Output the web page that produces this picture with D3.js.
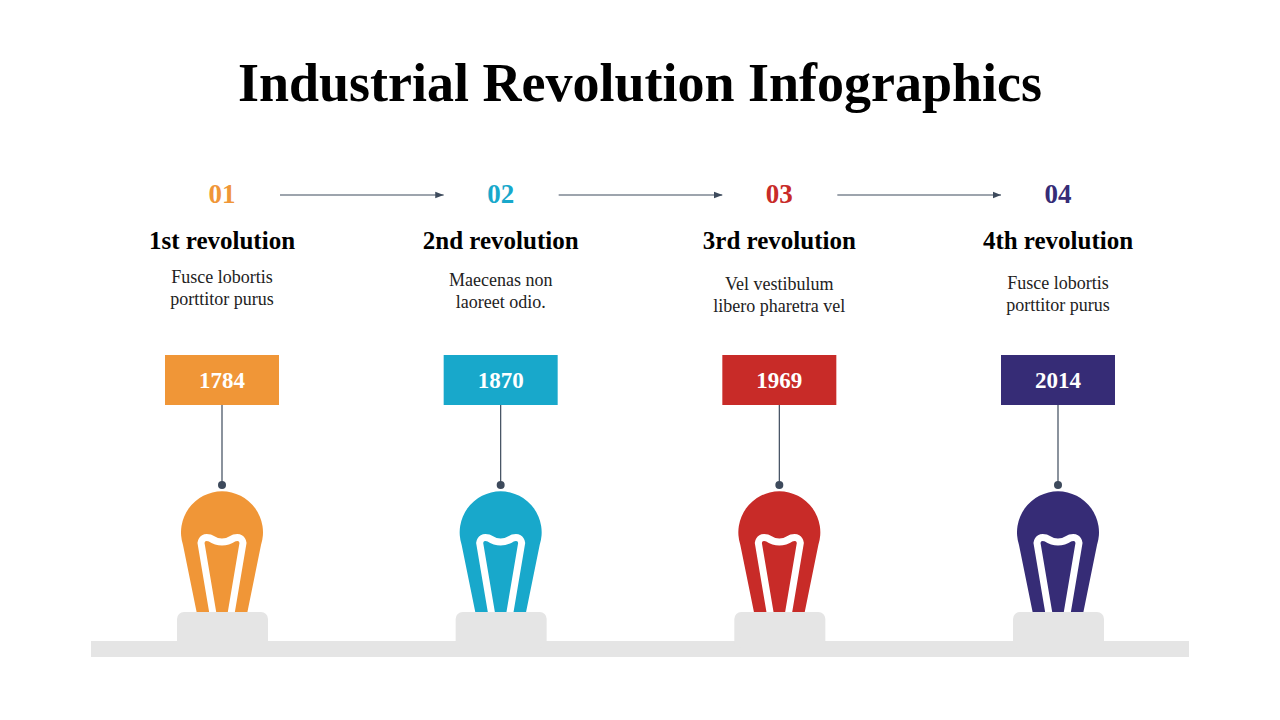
<!DOCTYPE html><html><head><meta charset="utf-8"><script src="https://cdn.jsdelivr.net/npm/d3@7"></script>
<style>body{margin:0;background:#fff}</style></head><body><svg id="c" width="1280" height="720"></svg><script>
const nums=["01","02","03","04"];
const titles=["1st revolution","2nd revolution","3rd revolution","4th revolution"];
const descs=[["Fusce lobortis","porttitor purus"],["Maecenas non","laoreet odio."],["Vel vestibulum","libero pharetra vel"],["Fusce lobortis","porttitor purus"]];
const descY=[277,280,284,283];
const years=["1784","1870","1969","2014"];
const colors=["#F09637","#18A8CB","#C82B28","#362C76"];
const svg=d3.select("#c");
const x=d3.scalePoint().domain(d3.range(4)).range([222,1058]);
const F="'Liberation Serif','DejaVu Serif',serif";
svg.append("text").attr("x",640).attr("y",101).attr("text-anchor","middle").attr("font-family",F).attr("font-weight","bold").attr("font-size",54).text("Industrial Revolution Infographics");
svg.append("defs").append("marker").attr("id","ar").attr("viewBox","0 0 10 10").attr("refX",10).attr("refY",5).attr("markerWidth",7).attr("markerHeight",7).attr("orient","auto").append("path").attr("d","M0,1L10,5L0,9z").attr("fill","#3d4a5c");
for(let i=0;i<3;i++) svg.append("line").attr("x1",x(i)+58).attr("x2",x(i+1)-57).attr("y1",195).attr("y2",195).attr("stroke","#3d4a5c").attr("stroke-width",1.2).attr("marker-end","url(#ar)");
svg.append("rect").attr("x",91).attr("y",641).attr("width",1098).attr("height",16).attr("fill","#e5e5e5");
const g=svg.selectAll("g.i").data(d3.range(4)).join("g").attr("transform",i=>`translate(${x(i)},0)`);
g.append("text").attr("y",203).attr("text-anchor","middle").attr("font-family",F).attr("font-weight","bold").attr("font-size",27).attr("fill",i=>colors[i]).text(i=>nums[i]);
g.append("text").attr("y",249).attr("text-anchor","middle").attr("font-family",F).attr("font-weight","bold").attr("font-size",25).text(i=>titles[i]);
g.each(function(i){const s=d3.select(this);descs[i].forEach((l,k)=>s.append("text").attr("y",descY[i]+6+k*22).attr("text-anchor","middle").attr("font-family",F).attr("font-size",18).attr("fill","#222").text(l));});
g.append("rect").attr("x",-57).attr("y",355).attr("width",114).attr("height",50).attr("fill",i=>colors[i]);
g.append("text").attr("y",388).attr("text-anchor","middle").attr("font-family",F).attr("font-weight","bold").attr("font-size",23).attr("fill","#fff").text(i=>years[i]);
g.append("line").attr("y1",405).attr("y2",485).attr("stroke","#3d4a5c").attr("stroke-width",1.2);
g.append("circle").attr("cy",485).attr("r",4).attr("fill","#3d4a5c");
g.append("path").attr("d","M-25,614 L-39,545 A41,41 0 1 1 39,545 L25,614 Z").attr("fill",i=>colors[i]);
g.append("path").attr("d","M-9,614 L-21,543 Q-20,536 -12,538 Q0,546 12,538 Q20,536 21,543 L9,614").attr("fill","none").attr("stroke","#fff").attr("stroke-width",7).attr("stroke-linejoin","round");
g.append("rect").attr("x",-45).attr("y",612).attr("width",91).attr("height",36).attr("rx",7).attr("fill","#e5e5e5");
</script></body></html>
